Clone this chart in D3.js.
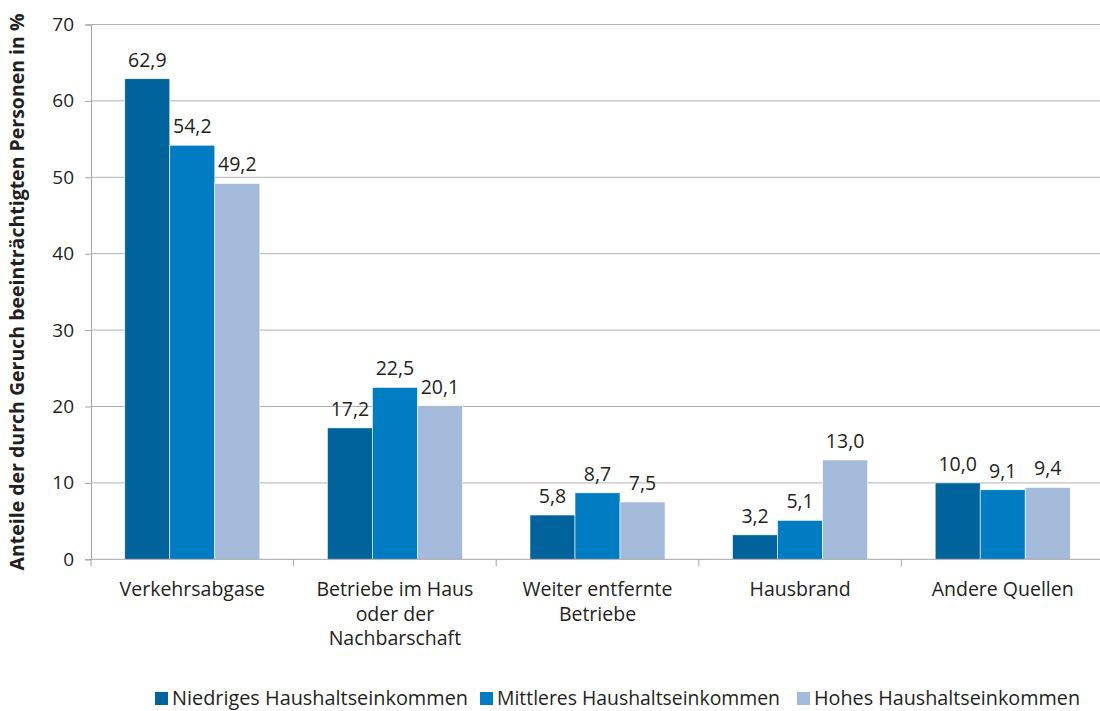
<!DOCTYPE html>
<html><head><meta charset="utf-8">
<script src="https://cdn.jsdelivr.net/npm/d3@7"></script>
<style>body{margin:0;background:#fff;} svg{display:block;font-family:"Open Sans",sans-serif;}</style>
</head><body>
<svg id="c" width="1100" height="711"></svg>
<script>
const categories = [["Verkehrsabgase"],["Betriebe im Haus","oder der","Nachbarschaft"],["Weiter entfernte","Betriebe"],["Hausbrand"],["Andere Quellen"]];
const seriesNames = ["Niedriges Haushaltseinkommen","Mittleres Haushaltseinkommen","Hohes Haushaltseinkommen"];
const niedrig = [62.9,17.2,5.8,3.2,10.0];
const mittel = [54.2,22.5,8.7,5.1,9.1];
const hoch = [49.2,20.1,7.5,13.0,9.4];
const yTicks = [0,10,20,30,40,50,60,70];
const colors = ["#00639c","#007cc2","#a3badb"];
const series = [niedrig, mittel, hoch];

const svg = d3.select("#c");
const L = 91, R = 1104, T = 24.5, B = 559.3;
const x = d3.scaleBand().domain(d3.range(categories.length)).range([L,R]).padding(0);
const xi = d3.scaleBand().domain(d3.range(3)).range([x.bandwidth()*0.1667, x.bandwidth()*0.8333]).padding(0);
const y = d3.scaleLinear().domain([0,70]).range([B,T]);
const fmt = v => v.toFixed(1).replace(".", ",");
const txt = "#231f20";

// gridlines
svg.append("g").selectAll("line").data(yTicks.filter(d=>d>0)).join("line")
  .attr("x1",L).attr("x2",R).attr("y1",d=>y(d)).attr("y2",d=>y(d))
  .attr("stroke","#b3b3b3").attr("stroke-width",1);

// y axis
const ya = svg.append("g").attr("transform",`translate(${L},0)`)
  .call(d3.axisLeft(y).tickValues(yTicks).tickSize(6).tickPadding(11).tickFormat(d=>d));
ya.select(".domain").attr("stroke","#a6a6a6");
ya.selectAll(".tick line").attr("stroke","#a6a6a6");
ya.selectAll(".tick text").attr("font-size",19).attr("fill",txt).attr("font-family","Open Sans");

// bars
const g = svg.append("g").selectAll("g").data(categories).join("g")
  .attr("transform",(d,i)=>`translate(${x(i)},0)`);
g.each(function(c,i){
  const gg = d3.select(this);
  series.forEach((s,j)=>{
    gg.append("rect").attr("x",xi(j)).attr("width",xi.bandwidth())
      .attr("y",y(s[i])).attr("height",B-y(s[i]))
      .attr("fill",colors[j]).attr("stroke","#ffffff").attr("stroke-width",0.6);
    gg.append("text").attr("x",xi(j)+xi.bandwidth()/2).attr("y",y(s[i])-12)
      .attr("text-anchor","middle").attr("font-size",19.5).attr("fill",txt).text(fmt(s[i]));
  });
});

// x axis
const xa = svg.append("g").attr("transform",`translate(0,${B})`);
xa.append("line").attr("x1",L).attr("x2",R).attr("stroke","#a6a6a6");
xa.selectAll("line.t").data(d3.range(categories.length+1)).join("line").attr("class","t")
  .attr("x1",i=>L+i*x.bandwidth()).attr("x2",i=>L+i*x.bandwidth()).attr("y1",0).attr("y2",7)
  .attr("stroke","#a6a6a6");
categories.forEach((c,i)=>{
  const t = xa.append("text").attr("text-anchor","middle").attr("font-size",19.5).attr("fill",txt);
  c.forEach((line,k)=>{
    t.append("tspan").attr("x",x(i)+x.bandwidth()/2).attr("y",37+k*24.5).text(line);
  });
});

// y title
svg.append("text").attr("transform",`translate(24,292) rotate(-90)`)
  .attr("text-anchor","middle").attr("font-size",19.5).attr("font-weight","bold").attr("fill",txt)
  .text("Anteile der durch Geruch beeinträchtigten Personen in %");

// legend
const legX = [155,480,797];
const legW = [296,283,266];
seriesNames.forEach((n,j)=>{
  svg.append("rect").attr("x",legX[j]).attr("y",692).attr("width",13).attr("height",13).attr("fill",colors[j]);
  svg.append("text").attr("x",legX[j]+17).attr("y",705).attr("font-size",19.5).attr("fill",txt)
    .attr("textLength",legW[j]).attr("lengthAdjust","spacingAndGlyphs").text(n);
});
</script>
</body></html>
